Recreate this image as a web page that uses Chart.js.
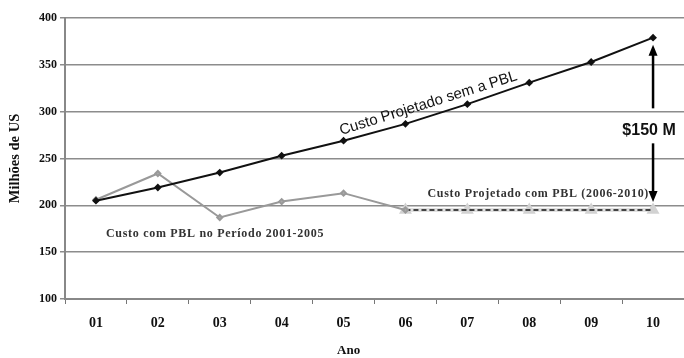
<!DOCTYPE html>
<html>
<head>
<meta charset="utf-8">
<script src="https://cdn.jsdelivr.net/npm/chart.js@4/dist/chart.umd.min.js"></script>
<style>
  body { margin: 0; background: #fff; }
  #wrap { width: 684px; height: 358px; }
</style>
</head>
<body>
<div id="wrap"><canvas id="c" width="684" height="358"></canvas></div>
<script>
// values (millions of US$)
var anos = ['01', '02', '03', '04', '05', '06', '07', '08', '09', '10'];
var custoSemPBL = [205, 219, 235, 253, 269, 287, 308, 331, 353, 379];
var custoComPBL = [206, 234, 187, 204, 213, 195, null, null, null, null];
var custoProjPBL = [null, null, null, null, null, 195, 195, 195, 195, 195];
var yTicks = [100, 150, 200, 250, 300, 350, 400];

var serif = '"Liberation Serif", "DejaVu Serif", serif';
var sans = '"Liberation Sans", Arial, sans-serif';

function arrow(ctx, x, y1, y2) {
    // shaft from y1 to y2, head at y2
    var dir = y2 > y1 ? 1 : -1;
    ctx.beginPath();
    ctx.moveTo(x, y1);
    ctx.lineTo(x, y2 - dir * 9);
    ctx.stroke();
    ctx.beginPath();
    ctx.moveTo(x, y2);
    ctx.lineTo(x - 4.5, y2 - dir * 11);
    ctx.lineTo(x + 4.5, y2 - dir * 11);
    ctx.closePath();
    ctx.fill();
}

var notes = {
    id: 'notes',
    afterDatasetsDraw: function(chart) {
        var ctx = chart.ctx;
        var xs = chart.scales.x, ys = chart.scales.y;
        ctx.save();

        // rotated label along the black line
        var x5 = xs.getPixelForValue(4), y5 = ys.getPixelForValue(custoSemPBL[4]);
        var x8 = xs.getPixelForValue(7), y8 = ys.getPixelForValue(custoSemPBL[7]);
        var ang = Math.atan2(y8 - y5, x8 - x5);
        var xa = xs.getPixelForValue(5), xb = xs.getPixelForValue(6);
        var ya = ys.getPixelForValue(custoSemPBL[5]), yb = ys.getPixelForValue(custoSemPBL[6]);
        var t = 0.43;
        ctx.translate(xa + (xb - xa) * t, ya + (yb - ya) * t);
        ctx.rotate(ang);
        ctx.fillStyle = '#111';
        ctx.font = '15px ' + sans;
        ctx.textAlign = 'center';
        ctx.textBaseline = 'bottom';
        ctx.fillText('Custo Projetado sem a PBL', 0, -5);
        ctx.restore();

        ctx.save();
        var x10 = xs.getPixelForValue(9);
        var yTop = ys.getPixelForValue(custoSemPBL[9]) + 7;
        var yBot = ys.getPixelForValue(custoProjPBL[9]) - 8;
        var yMid = (yTop + yBot) / 2 + 5;
        ctx.strokeStyle = '#000';
        ctx.fillStyle = '#000';
        ctx.lineWidth = 2.5;
        arrow(ctx, x10, yMid - 20, yTop);
        arrow(ctx, x10, yMid + 15, yBot);
        ctx.font = 'bold 16px ' + sans;
        ctx.textAlign = 'center';
        ctx.textBaseline = 'middle';
        ctx.fillStyle = '#111';
        ctx.fillText('$150 M', x10 - 4, yMid + 2);

        ctx.font = 'bold 12px ' + serif;
        ctx.letterSpacing = '0.7px';
        ctx.fillStyle = '#333';
        ctx.textBaseline = 'alphabetic';
        ctx.textAlign = 'right';
        ctx.fillText('Custo Projetado com PBL (2006-2010)', x10 - 4, ys.getPixelForValue(209));
        ctx.textAlign = 'left';
        ctx.fillText('Custo com PBL no Per\u00edodo 2001-2005', xs.getPixelForValue(0) + 10, ys.getPixelForValue(166));
        ctx.letterSpacing = '0px';

        // x axis title, sitting a bit left of centre as in the original
        ctx.font = 'bold 13px ' + serif;
        ctx.fillStyle = '#111';
        ctx.textAlign = 'center';
        ctx.fillText('Ano', (xs.getPixelForValue(3) + xs.getPixelForValue(4)) / 2 + 36, 354);
        ctx.restore();
    }
};

new Chart(document.getElementById('c'), {
    type: 'line',
    data: {
        labels: anos,
        datasets: [{
            label: 'Custo Projetado com PBL (fundo)',
            data: custoProjPBL,
            borderColor: '#e0e0e0',
            borderWidth: 4,
            pointStyle: 'triangle',
            pointRadius: 3.5,
            pointBackgroundColor: '#d2d2d2',
            pointBorderColor: '#d2d2d2',
            order: 4
        }, {
            label: 'Custo Projetado com PBL',
            data: custoProjPBL,
            borderColor: '#111',
            borderWidth: 1.5,
            borderDash: [5, 3],
            pointRadius: 0,
            order: 3
        }, {
            label: 'Custo com PBL',
            data: custoComPBL,
            borderColor: '#999',
            borderWidth: 2,
            pointStyle: 'rectRot',
            pointRadius: 2.5,
            pointBackgroundColor: '#aaa',
            pointBorderColor: '#999',
            order: 2
        }, {
            label: 'Custo Projetado sem a PBL',
            data: custoSemPBL,
            borderColor: '#111',
            borderWidth: 2,
            pointStyle: 'rectRot',
            pointRadius: 2.5,
            pointBackgroundColor: '#111',
            pointBorderColor: '#111',
            order: 1
        }]
    },
    options: {
        responsive: false,
        animation: false,
        spanGaps: false,
        layout: { autoPadding: false, padding: { top: 18, right: 0, left: 0, bottom: 0 } },
        plugins: { legend: { display: false }, tooltip: { enabled: false } },
        scales: {
            x: {
                offset: true,
                grid: { drawOnChartArea: false, drawTicks: true, tickLength: 5, color: '#777', offset: true },
                border: { color: '#888', width: 2 },
                ticks: { color: '#111', font: { family: serif, size: 14, weight: 'bold' }, padding: 11, maxRotation: 0 },
                afterFit: function(s) { s.height = 59; s.paddingLeft = 0; s.paddingRight = 0; }
            },
            y: {
                min: 100, max: 400,
                afterBuildTicks: function(s) { s.ticks = yTicks.map(function(v) { return { value: v }; }); },
                grid: { color: '#8c8c8c', lineWidth: 1.5, tickLength: 5 },
                border: { color: '#888', width: 2 },
                ticks: { color: '#111', font: { family: serif, size: 12, weight: 'bold' }, padding: 3 },
                title: { display: true, text: 'Milh\u00f5es de US', color: '#111', font: { family: serif, size: 14.5, weight: 'bold' }, padding: { top: 7, bottom: 0 } },
                afterFit: function(s) { s.width = 65; }
            }
        }
    },
    plugins: [notes]
});
</script>
</body>
</html>
